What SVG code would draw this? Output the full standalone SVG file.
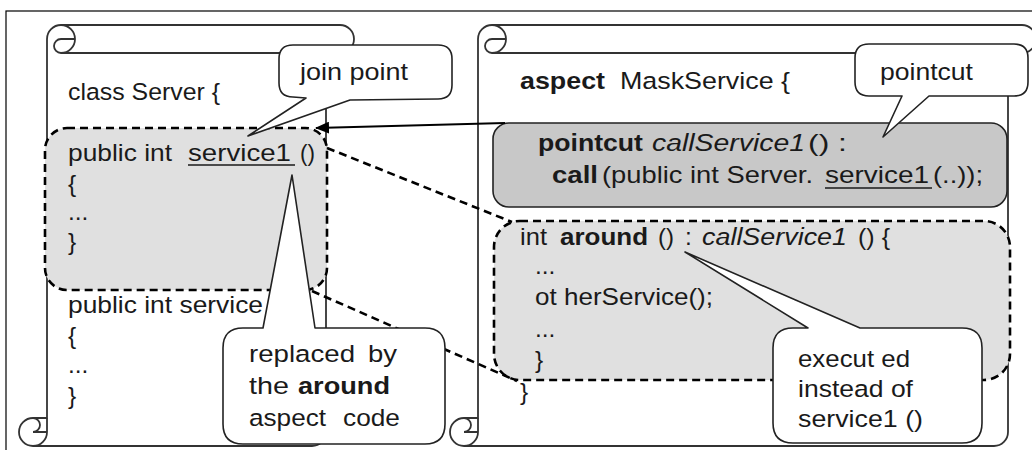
<svg xmlns="http://www.w3.org/2000/svg" width="1032" height="450" viewBox="0 0 1032 450">
<defs>
<style>
.t{font-family:"Liberation Sans",Arial,sans-serif;font-size:24.5px;fill:#1a1a1a}
.b{font-weight:bold}
.i{font-style:italic}
.scroll{fill:#fff;stroke:#333;stroke-width:1.8;stroke-linejoin:round}
.curl{fill:none;stroke:#333;stroke-width:1.8}
.dash{fill:#e0e0e0;stroke:#000;stroke-width:2.6;stroke-dasharray:8 5}
.solidbox{fill:#c8c8c8;stroke:#222;stroke-width:1.6}
.conn{fill:none;stroke:#000;stroke-width:2.6;stroke-dasharray:8 5}
.arrow{fill:none;stroke:#000;stroke-width:2.2}
.callout{fill:#fff;stroke:#222;stroke-width:1.6;stroke-linejoin:round}
.ul{stroke:#1a1a1a;stroke-width:1.6}
</style>
<marker id="ah" markerUnits="userSpaceOnUse" markerWidth="14" markerHeight="12" refX="13" refY="6" orient="auto">
<path d="M0,0 L14,6 L0,12 Z" fill="#000"/>
</marker>
</defs>

<rect id="frame" x="6" y="11" width="1040" height="450" fill="#fff" stroke="#000" stroke-width="1.2"/>

<!-- class Server scroll -->
<g id="scroll-server">
<path class="scroll" d="M47,418 L47,39 A14,14 0 0 1 61,25 L340,25 A14,14 0 0 1 340,53 L326,53 L326,432 A14,14 0 0 1 312,446 L33,446 A14,14 0 0 1 33,418 Z"/>
<path class="curl" d="M61,25 A14,14 0 0 1 61,53 A7,7 0 0 1 61,39 L75,39 M326,53 L61,53 M33,418 A7,7 0 0 1 33,432 L47,432 M33,446 A14,14 0 0 0 47,432 L47,418"/>
<rect id="service1-body" class="dash" x="45" y="128" width="282" height="162" rx="22"/>
<text class="t" x="68" y="100" textLength="152" lengthAdjust="spacingAndGlyphs">class Server {</text>
<text class="t" x="68" y="161" textLength="104" lengthAdjust="spacingAndGlyphs">public int</text>
<text class="t" x="188" y="161" textLength="103" lengthAdjust="spacingAndGlyphs">service1</text>
<line class="ul" x1="188" y1="165" x2="295" y2="165"/>
<text class="t" x="300" y="161" textLength="15" lengthAdjust="spacingAndGlyphs">()</text>
<text class="t" x="68" y="192">{</text>
<text class="t" x="68" y="220">...</text>
<text class="t" x="68" y="250">}</text>
<text class="t" x="68" y="313" textLength="195" lengthAdjust="spacingAndGlyphs">public int service</text>
<text class="t" x="68" y="344">{</text>
<text class="t" x="68" y="373">...</text>
<text class="t" x="68" y="404">}</text>
</g>

<!-- aspect MaskService scroll -->
<g id="scroll-aspect">
<path class="scroll" d="M478,418 L478,39 A14,14 0 0 1 492,25 L1022,25 A14,14 0 0 1 1022,53 L1008,53 L1008,432 A14,14 0 0 1 994,446 L464,446 A14,14 0 0 1 464,418 Z"/>
<path class="curl" d="M492,25 A14,14 0 0 1 492,53 A7,7 0 0 1 492,39 L506,39 M1008,53 L492,53 M464,418 A7,7 0 0 1 464,432 L478,432 M464,446 A14,14 0 0 0 478,432 L478,418"/>
<text class="t b" x="520" y="89" textLength="85" lengthAdjust="spacingAndGlyphs">aspect</text>
<text class="t" x="620" y="89" textLength="170" lengthAdjust="spacingAndGlyphs">MaskService {</text>
<g id="pointcut-decl">
<rect class="solidbox" x="493" y="123" width="514" height="84" rx="16"/>
<text class="t b" x="538" y="151" textLength="105" lengthAdjust="spacingAndGlyphs">pointcut</text>
<text class="t i" x="652" y="151" textLength="153" lengthAdjust="spacingAndGlyphs">callService1</text>
<text class="t" x="808" y="151" textLength="39" lengthAdjust="spacingAndGlyphs">() :</text>
<text class="t b" x="552" y="183" textLength="46" lengthAdjust="spacingAndGlyphs">call</text>
<text class="t" x="602" y="183" textLength="211" lengthAdjust="spacingAndGlyphs">(public int Server.</text>
<text class="t" x="825" y="183" textLength="104" lengthAdjust="spacingAndGlyphs">service1</text>
<text class="t" x="933" y="183" textLength="50" lengthAdjust="spacingAndGlyphs">(..));</text>
<line class="ul" x1="825" y1="188" x2="932" y2="188"/>
</g>
<g id="around-advice">
<rect class="dash" x="494" y="221" width="516" height="159" rx="26"/>
<text class="t" x="520" y="245" textLength="27" lengthAdjust="spacingAndGlyphs">int</text>
<text class="t b" x="560" y="245" textLength="88" lengthAdjust="spacingAndGlyphs">around</text>
<text class="t" x="658" y="245" textLength="16" lengthAdjust="spacingAndGlyphs">()</text>
<text class="t" x="685" y="245">:</text>
<text class="t i" x="702" y="245" textLength="145" lengthAdjust="spacingAndGlyphs">callService1</text>
<text class="t" x="858" y="245" textLength="32" lengthAdjust="spacingAndGlyphs">() {</text>
<text class="t" x="535" y="274">...</text>
<text class="t" x="535" y="305" textLength="178" lengthAdjust="spacingAndGlyphs">ot herService();</text>
<text class="t" x="535" y="337">...</text>
<text class="t" x="535" y="368">}</text>
</g>
<text class="t" x="520" y="400">}</text>
</g>

<!-- connectors -->
<g id="connectors">
<line class="conn" x1="327" y1="148" x2="512" y2="222"/>
<line class="conn" x1="312" y1="291" x2="517" y2="381"/>
<line class="arrow" x1="505" y1="123" x2="316" y2="128" marker-end="url(#ah)"/>
</g>

<!-- callouts -->
<g id="callout-joinpoint">
<path class="callout" d="M293,45 L438,45 Q452,45 452,59 L452,85 Q452,99 438,99 L350,100 L248,136 L306,98 L293,97 Q279,97 279,83 L279,59 Q279,45 293,45 Z"/>
<text class="t" x="300" y="80" textLength="108" lengthAdjust="spacingAndGlyphs">join point</text>
</g>
<g id="callout-pointcut">
<path class="callout" d="M869,44 L1014,44 Q1028,44 1028,58 L1028,82 Q1028,96 1014,96 L929,96 L883,137 L902,96 L869,96 Q855,96 855,82 L855,58 Q855,44 869,44 Z"/>
<text class="t" x="880" y="80" textLength="93" lengthAdjust="spacingAndGlyphs">pointcut</text>
</g>
<g id="callout-replaced">
<path class="callout" d="M243,328 L263,328 L292,175 L315,328 L425,328 Q445,328 445,348 L445,424 Q445,444 425,444 L243,444 Q223,444 223,424 L223,348 Q223,328 243,328 Z"/>
<text class="t" x="249" y="362" textLength="106" lengthAdjust="spacingAndGlyphs">replaced</text>
<text class="t" x="368" y="362" textLength="29" lengthAdjust="spacingAndGlyphs">by</text>
<text class="t" x="249" y="394" textLength="40" lengthAdjust="spacingAndGlyphs">the</text>
<text class="t b" x="298" y="394" textLength="92" lengthAdjust="spacingAndGlyphs">around</text>
<text class="t" x="249" y="426" textLength="77" lengthAdjust="spacingAndGlyphs">aspect</text>
<text class="t" x="343" y="426" textLength="57" lengthAdjust="spacingAndGlyphs">code</text>
</g>
<g id="callout-executed">
<path class="callout" d="M793,328 L808,328 L685,252 L860,328 L962,328 Q982,328 982,348 L982,423 Q982,443 962,443 L793,443 Q773,443 773,423 L773,348 Q773,328 793,328 Z"/>
<text class="t" x="798" y="367" textLength="112" lengthAdjust="spacingAndGlyphs">execut ed</text>
<text class="t" x="798" y="397" textLength="115" lengthAdjust="spacingAndGlyphs">instead of</text>
<text class="t" x="798" y="427" textLength="125" lengthAdjust="spacingAndGlyphs">service1 ()</text>
</g>
</svg>
